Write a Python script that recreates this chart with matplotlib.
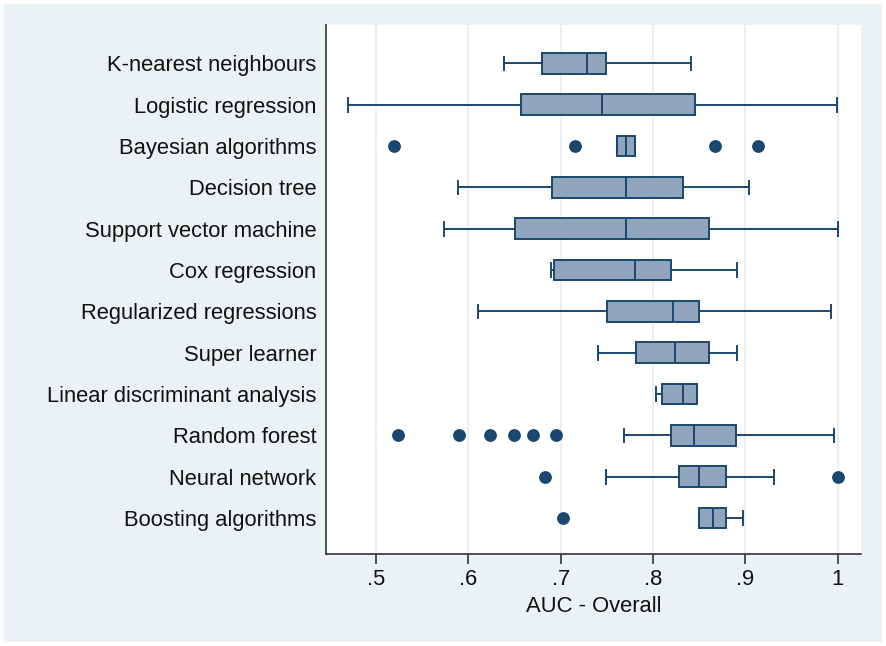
import matplotlib
matplotlib.use("Agg")
import matplotlib.pyplot as plt
from matplotlib.patches import Rectangle
from matplotlib.ticker import FuncFormatter

# valores (AUC global por familia de algoritmo)
labels = ["K-nearest neighbours", "Logistic regression", "Bayesian algorithms",
          "Decision tree", "Support vector machine", "Cox regression",
          "Regularized regressions", "Super learner", "Linear discriminant analysis",
          "Random forest", "Neural network", "Boosting algorithms"]
whis_lo = [0.639, 0.470, 0.761, 0.589, 0.574, 0.690, 0.610, 0.740, 0.803, 0.768, 0.749, 0.850]
q1 = [0.680, 0.657, 0.761, 0.691, 0.651, 0.693, 0.750, 0.781, 0.810, 0.819, 0.828, 0.850]
med = [0.729, 0.745, 0.771, 0.771, 0.771, 0.780, 0.821, 0.824, 0.832, 0.844, 0.850, 0.865]
q3 = [0.749, 0.845, 0.780, 0.832, 0.860, 0.819, 0.850, 0.861, 0.847, 0.890, 0.879, 0.879]
whis_hi = [0.841, 0.999, 0.780, 0.904, 1.000, 0.891, 0.992, 0.891, 0.848, 0.996, 0.931, 0.897]
outliers = [[], [], [0.520, 0.716, 0.867, 0.914], [], [], [], [], [], [],
            [0.524, 0.590, 0.624, 0.650, 0.670, 0.695], [0.683, 1.0], [0.702]]
xticks = [0.5, 0.6, 0.7, 0.8, 0.9, 1.0]

NAVY = "#1a476f"
FILL = "#90a4bb"
BG = "#eaf2f3"

plt.rcParams["font.family"] = ["Liberation Sans", "DejaVu Sans"]

fig = plt.figure(figsize=(8.86, 6.46), dpi=100, facecolor="white")
fig.patches.append(Rectangle((4 / 886, 4 / 646), 878 / 886, 638 / 646,
                             transform=fig.transFigure, facecolor=BG,
                             edgecolor="none", zorder=-10))
ax = fig.add_axes([326 / 886, 1 - 554 / 646, 535 / 886, 529 / 646])
ax.set_facecolor("white")

stats = [dict(whislo=a, q1=b, med=c, q3=d, whishi=e, fliers=f, label=l)
         for a, b, c, d, e, f, l in zip(whis_lo, q1, med, q3, whis_hi, outliers, labels)]
ax.bxp(stats, positions=range(len(labels)), widths=0.5, capwidths=0.33,
       orientation="horizontal", patch_artist=True, showfliers=True,
       boxprops=dict(facecolor=FILL, edgecolor=NAVY, linewidth=1.4),
       medianprops=dict(color=NAVY, linewidth=1.4),
       whiskerprops=dict(color=NAVY, linewidth=1.4),
       capprops=dict(color=NAVY, linewidth=1.4),
       flierprops=dict(marker="o", markerfacecolor=NAVY, markeredgecolor=NAVY,
                       markersize=8.2, linestyle="none"))

ax.set_ylim(len(labels) - 1 + 0.87, -0.93)
ax.set_xlim(0.446, 1.025)
ax.set_xticks(xticks)
ax.xaxis.set_major_formatter(FuncFormatter(lambda v, p: "1" if v >= 0.999 else f"{v:.1f}".lstrip("0")))
ax.grid(axis="x", color="#e6edf0", linewidth=1.2, zorder=0)
ax.set_axisbelow(True)

ax.tick_params(axis="y", length=0, pad=7, labelsize=15.8, labelcolor="#111")
ax.tick_params(axis="x", length=7, width=1.2, color="#333", pad=4, labelsize=15.8, labelcolor="#111")
ax.set_xlabel("AUC - Overall", fontsize=15.8, color="#111", labelpad=4)

for s in ("top", "right"):
    ax.spines[s].set_visible(False)
for s in ("left", "bottom"):
    ax.spines[s].set_color("#333")
    ax.spines[s].set_linewidth(1.2)

fig.savefig("out.png", dpi=100, facecolor=fig.get_facecolor())
